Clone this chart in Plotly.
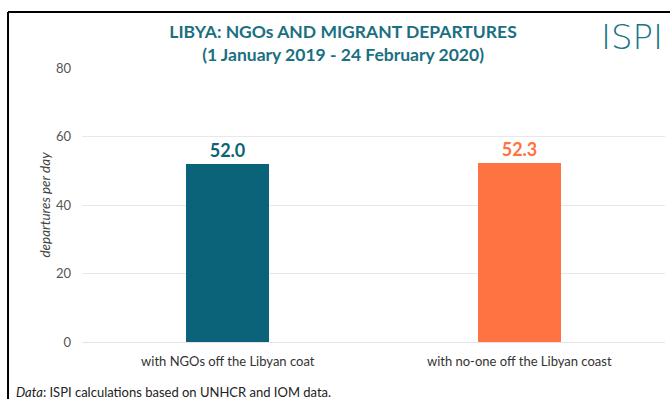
import plotly.graph_objects as go

# Average daily departures from Libya, by presence of NGO vessels
categories = ["with NGOs off the Libyan coat", "with no-one off the Libyan coast"]
departures = [52.0, 52.3]
value_labels = ["52.0", "52.3"]
bar_colors = ["#0b6379", "#ff7342"]
y_ticks = [0, 20, 40, 60, 80]

FONT = "Lato"
TEAL = "#1b6f82"

fig = go.Figure()
fig.add_trace(go.Bar(
    x=categories,
    y=departures,
    width=0.285,
    marker=dict(color=bar_colors, line=dict(width=0)),
    text=[f"<b>{t}</b>" for t in value_labels],
    textposition="outside",
    textfont=dict(family=FONT, size=18, color=bar_colors),
    cliponaxis=False,
    hoverinfo="x+y",
))

fig.update_layout(
    width=670,
    height=399,
    margin=dict(l=82, r=5, t=68, b=57),
    paper_bgcolor="white",
    plot_bgcolor="white",
    showlegend=False,
    font=dict(family=FONT, color="#444"),
    bargap=0,
    title=dict(
        text="<b>LIBYA: NGOs AND MIGRANT DEPARTURES</b><br><b>(1 January 2019 - 24 February 2020)</b>",
        x=0.512,
        xanchor="center",
        y=0.905,
        yanchor="top",
        font=dict(family=FONT, size=17.5, color=TEAL),
    ),
    xaxis=dict(
        showgrid=False,
        showline=False,
        ticks="",
        ticklabelstandoff=10,
        tickfont=dict(family=FONT, size=13, color="#333"),
    ),
    yaxis=dict(
        range=[0, 80],
        tickvals=y_ticks,
        showgrid=True,
        gridcolor="#e8e8e8",
        gridwidth=1,
        zeroline=True,
        zerolinecolor="#e3e3e3",
        zerolinewidth=1,
        showline=False,
        ticks="",
        ticklabelstandoff=10,
        tickfont=dict(family=FONT, size=13, color="#555"),
        title=dict(
            text="<i>departures per day</i>",
            font=dict(family=FONT, size=13.5, color="#444"),
            standoff=2,
        ),
    ),
    shapes=[
        # frame lines along the left and top edges
        dict(type="line", xref="paper", yref="paper",
             x0=-0.1269, x1=-0.1269, y0=-0.3, y1=1.2044,
             line=dict(color="black", width=2)),
        dict(type="line", xref="paper", yref="paper",
             x0=-0.1269, x1=1.01, y0=1.2044, y1=1.2044,
             line=dict(color="black", width=2)),
    ],
    annotations=[
        dict(text="ISPI", xref="paper", yref="paper",
             x=1.0, y=1.113, xanchor="right", yanchor="middle",
             showarrow=False,
             font=dict(family="DejaVu Sans, sans-serif", size=34, weight=200,
                       color="#1b7488")),
        dict(text="<i>Data</i>: ISPI calculations based on UNHCR and IOM data.",
             xref="paper", yref="paper",
             x=-0.117, y=-0.182, xanchor="left", yanchor="middle",
             showarrow=False,
             font=dict(family=FONT, size=13, color="#222")),
    ],
)

fig.write_html("out.html")
